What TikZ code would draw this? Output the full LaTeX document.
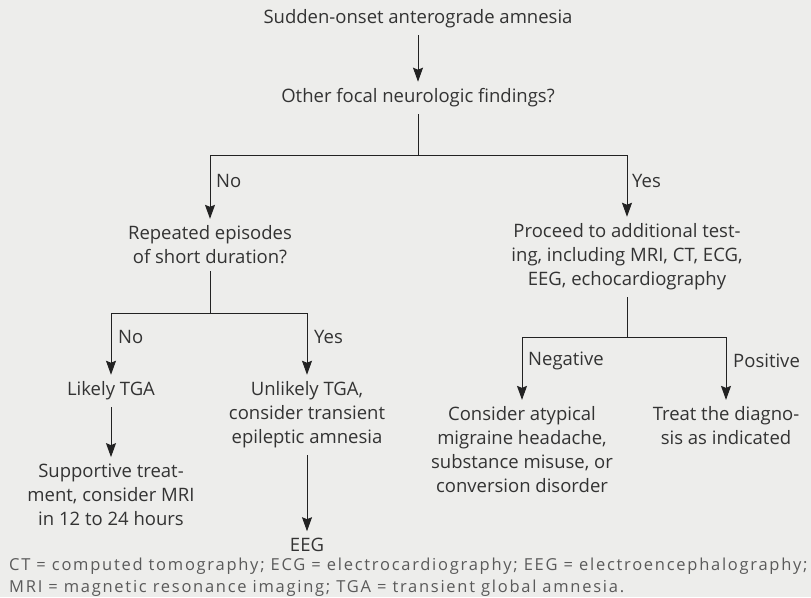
\documentclass[tikz,border=0pt]{standalone}
\usepackage{fontspec}
\setmainfont{Open Sans}
\newfontfamily\footfont[LetterSpace=10.5]{Open Sans}
\usetikzlibrary{arrows.meta}
\definecolor{bg}{HTML}{EDEDEB}
\definecolor{txt}{HTML}{333333}
\definecolor{ln}{HTML}{222222}
\definecolor{foot}{HTML}{5A5A5A}
\begin{document}
\begin{tikzpicture}[x=1pt,y=1pt,
  box/.style={inner xsep=1pt, inner ysep=7pt, outer sep=0pt, align=center, text=txt,
    font=\fontsize{18.5}{24}\selectfont},
  lab/.style={anchor=west, inner sep=0pt, text=txt, font=\fontsize{18.5}{24}\selectfont},
  conn/.style={draw=ln, line width=1pt},
  arr/.style={conn, -{Stealth[length=14pt,width=10pt,inset=2pt]}}]
\fill[bg] (0,0) rectangle (811,-597);
\useasboundingbox (0,0) rectangle (811,-597);

\node[box] (title) at (418,-19) {Sudden-onset anterograde amnesia};
\node[box] (q1) at (418,-98) {Other focal neurologic findings?};
\node[box] (rep) at (210,-245) {Repeated episodes\\of short duration?};
\node[box] (proc) at (627,-257) {Proceed to additional test-\\ing, including MRI, CT, ECG,\\EEG, echocardiography};
\node[box] (likely) at (111,-391) {Likely TGA};
\node[box] (unlikely) at (307,-415) {Unlikely TGA,\\consider transient\\epileptic amnesia};
\node[box] (neg) at (522,-450) {Consider atypical\\migraine headache,\\substance misuse, or\\conversion disorder};
\node[box] (pos) at (726,-426) {Treat the diagno-\\sis as indicated};
\node[box] (supp) at (111,-495) {Supportive treat-\\ment, consider MRI\\in 12 to 24 hours};
\node[box] (eeg) at (307,-545) {EEG};

\coordinate (j1) at (418,-155);
\coordinate (j2) at (210,-313);
\coordinate (j3) at (627,-337);

\draw[arr] (title.south) -- (q1.north);
\draw[conn] (q1.south) -- (j1);
\draw[arr] (j1) -| (rep.north);
\draw[arr] (j1) -| (proc.north);
\draw[conn] (rep.south) -- (j2);
\draw[arr] (j2) -| (likely.north);
\draw[arr] (j2) -| (unlikely.north);
\draw[conn] (proc.south) -- (j3);
\draw[arr] (j3) -| (neg.north);
\draw[arr] (j3) -| (pos.north);
\draw[arr] (likely.south) -- (supp.north);
\draw[arr] (unlikely.south) -- (eeg.north);

\node[lab] (lno1) at (216,-181) {No};
\node[lab] (lyes1) at (632,-181) {Yes};
\node[lab] (lno2) at (118,-337) {No};
\node[lab] (lyes2) at (314,-337) {Yes};
\node[lab] (lneg) at (528,-361) {Negative};
\node[lab] (lpos) at (733,-361) {Positive};

\node[anchor=west, inner sep=0pt, align=left, text=foot, font=\footfont\fontsize{16.5}{22}\selectfont] (footer) at (9,-577)
  {CT = computed tomography; ECG = electrocardiography; EEG = electroencephalography;\\MRI = magnetic resonance imaging; TGA = transient global amnesia.};
\end{tikzpicture}
\end{document}
